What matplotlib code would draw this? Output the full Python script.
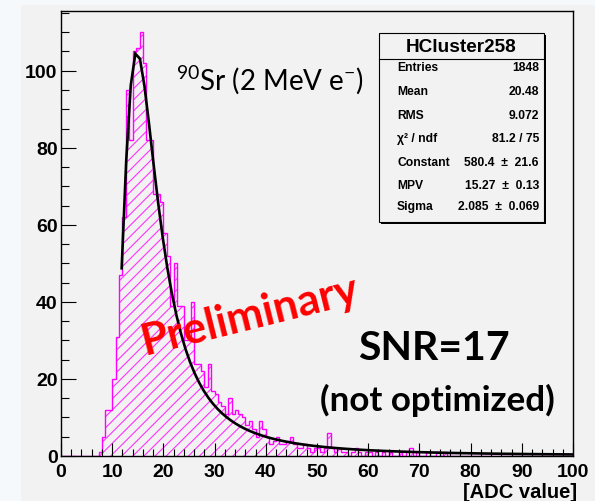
import numpy as np
import matplotlib
matplotlib.use("Agg")
import matplotlib.pyplot as plt
from matplotlib.patches import Rectangle
from matplotlib.lines import Line2D
from matplotlib.ticker import MultipleLocator

# ---- data -------------------------------------------------------------
x_min, x_max, n_bins = 0.0, 100.0, 150
counts = ([0] * 11 +
          [1, 5, 12, 12, 20, 31, 47, 62, 95, 82,
           105, 106, 110, 102, 82, 82, 68, 68, 66, 58,
           52, 39, 50, 39, 39, 30, 30, 40, 24, 24,
           22, 18, 24, 17, 16, 14, 13, 11, 15, 11,
           12, 11, 10, 8, 9, 7, 5, 9, 7, 5,
           3, 4, 5, 3, 3, 4, 5, 3, 2, 2,
           3, 2, 1, 2, 2, 1, 2, 6, 2, 1,
           2, 1, 1, 0, 1, 2, 1, 0, 1, 1,
           0, 1, 0, 1, 0, 1, 0, 0, 1, 0,
           1, 2, 0, 1, 0, 0, 1, 0, 0, 1,
           0, 1] +
          [0] * 37)

# Landau fit parameters
fit_const, fit_mpv, fit_sigma = 580.4, 15.27, 2.085
fit_range = (11.85, 100.0)

stat_title = "HCluster258"
stat_labels = ["Entries", "Mean", "RMS", "\u03c7\u00b2 / ndf", "Constant", "MPV", "Sigma"]
stat_values = ["1848", "20.48", "9.072", "81.2 / 75",
               "580.4  \u00b1  21.6", "15.27  \u00b1  0.13", "2.085  \u00b1  0.069"]

x_ticks = list(range(0, 101, 10))
y_ticks = list(range(0, 101, 20))
x_title = "[ADC value]"


def landau(lam):
    """Standard Landau density (same convention as ROOT's TMath::Landau)."""
    t = np.geomspace(1e-6, 50, 9000)
    lam = np.atleast_1d(lam)
    out = np.empty(lam.shape)
    for i, l in enumerate(lam):
        f = np.exp(-t * np.log(t) - l * t) * np.sin(np.pi * t)
        out[i] = np.trapezoid(f, t) / np.pi
    return out


# ---- figure -----------------------------------------------------------
W, H = 595, 502
fig = plt.figure(figsize=(W / 100, H / 100), dpi=100)
fig.patch.set_facecolor("#f6f9fc")


def fx(px):
    return px / W


def fy(py):
    return 1 - py / H


canvas_grey = "#f2f2f2"
fig.add_artist(Rectangle((fx(21), 0), 1 - fx(21), fy(6), transform=fig.transFigure,
                         facecolor=canvas_grey, edgecolor="none", zorder=0))

ax = fig.add_axes([fx(61), fy(457), fx(573) - fx(61), fy(12) - fy(457)])
ax.set_facecolor(canvas_grey)

edges = np.linspace(x_min, x_max, n_bins + 1)
plt.rcParams["hatch.linewidth"] = 0.8
ax.stairs(counts, edges, fill=True, facecolor="none", edgecolor="#ff33ff",
          hatch="///", linewidth=0)
ax.stairs(counts, edges, baseline=0, color="#ff00ff", linewidth=1.0)

xf = np.linspace(fit_range[0], fit_range[1], 100)
yf = fit_const * landau((xf - fit_mpv) / fit_sigma)
ax.plot(xf, yf, color="black", lw=1.9, solid_joinstyle="miter")

ax.set_xlim(x_min, x_max)
ax.set_ylim(0, 1.05 * max(counts))

ax.set_xticks(x_ticks)
ax.set_yticks(y_ticks)
ax.xaxis.set_minor_locator(MultipleLocator(2))
ax.yaxis.set_minor_locator(MultipleLocator(5))
ax.tick_params(axis="x", which="major", direction="in", length=9.6, width=0.8, pad=5)
ax.tick_params(axis="x", which="minor", direction="in", length=4.8, width=0.8)
ax.tick_params(axis="y", which="major", direction="in", length=11, width=0.8, pad=2.5)
ax.tick_params(axis="y", which="minor", direction="in", length=5.5, width=0.8)

tick_font = dict(family="Liberation Sans", weight="bold", size=14)
for lab in ax.get_xticklabels() + ax.get_yticklabels():
    lab.set_fontproperties(matplotlib.font_manager.FontProperties(**tick_font))
for sp in ax.spines.values():
    sp.set_linewidth(1.0)
    sp.set_color("black")

fig.text(fx(577), fy(493), x_title, ha="right", va="center",
         family="Liberation Sans", weight="bold", size=14.5)

# ---- statistics box ---------------------------------------------------
L, T, R, B = 379, 34, 544, 223
fig.add_artist(Rectangle((fx(L + 2), fy(B + 2)), fx(R) - fx(L), fy(T) - fy(B),
                         transform=fig.transFigure, facecolor="black",
                         edgecolor="none", zorder=5))
fig.add_artist(Rectangle((fx(L), fy(B)), fx(R) - fx(L), fy(T) - fy(B),
                         transform=fig.transFigure, facecolor=canvas_grey,
                         edgecolor="black", lw=0.8, zorder=6))
fig.add_artist(Line2D([fx(L), fx(R)], [fy(60), fy(60)], transform=fig.transFigure,
                      color="black", lw=0.8, zorder=7))
fig.text(fx((L + R) / 2), fy(47), stat_title, ha="center", va="center",
         family="Liberation Sans", weight="bold", size=13.7, zorder=8)
row_y = [68, 92, 116, 139, 163, 186, 207]
for yy, lab, val in zip(row_y, stat_labels, stat_values):
    fig.text(fx(397), fy(yy), lab, ha="left", va="center",
             family="Liberation Sans", weight="bold", size=8.7, zorder=8)
    fig.text(fx(539), fy(yy), val, ha="right", va="center",
             family="Liberation Sans", weight="bold", size=8.7, zorder=8)

# ---- annotations ------------------------------------------------------
plt.rcParams["mathtext.fontset"] = "custom"
plt.rcParams["mathtext.rm"] = "Lato"
plt.rcParams["mathtext.it"] = "Lato:italic"
fig.text(fx(176), fy(90), r"$^{90}$Sr (2 MeV e$^{-}$)", ha="left", va="baseline",
         family="Lato", size=20)
fig.text(fx(250), fy(316), "Preliminary", ha="center", va="center", rotation=14,
         rotation_mode="anchor", family="Lato", weight="bold", size=31.5, color="#ff0000")
fig.text(fx(434), fy(348), "SNR=17", ha="center", va="center",
         family="Lato", weight="bold", size=29.5)
fig.text(fx(437), fy(400), "(not optimized)", ha="center", va="center",
         family="Lato", weight="bold", size=25.2)

fig.savefig("out.png", dpi=100, facecolor=fig.get_facecolor())
